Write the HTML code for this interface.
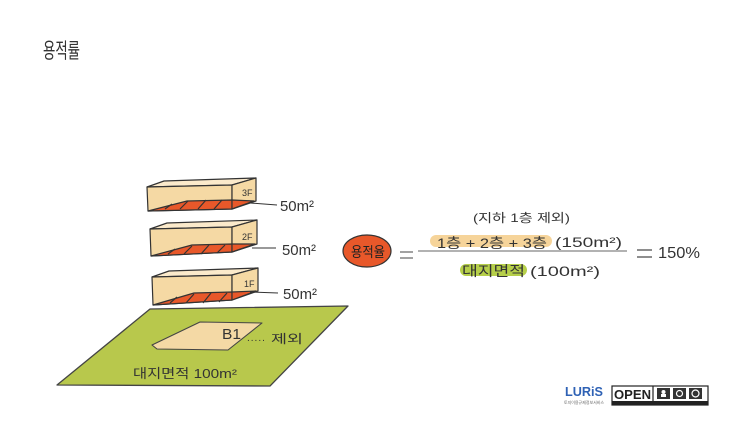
<!DOCTYPE html>
<html><head><meta charset="utf-8">
<style>
html,body{margin:0;padding:0;background:#fff;}
svg{display:block;}
text{font-family:"Liberation Sans","Noto Sans CJK KR",sans-serif;fill:#333;}
</style></head>
<body>
<svg width="742" height="422" viewBox="0 0 742 422" xmlns="http://www.w3.org/2000/svg">
<rect width="742" height="422" fill="#fff"/>
<!-- title -->
<text transform="translate(43,58) scale(1,1.5)" font-size="14" textLength="37" lengthAdjust="spacingAndGlyphs">용적률</text>

<!-- 3F block -->
<g stroke="#333" stroke-width="1.2" stroke-linejoin="round">
<polygon points="147,187 164,181 256,178 232,185" fill="#fbeacb"/>
<polygon points="147,187 232,185 232,209 148,211" fill="#f5d9a4"/>
<polygon points="232,185 256,178 256,201 232,209" fill="#f5d9a4"/>
<polygon points="148,211 187,201 232,200 232,209" fill="#e8582a"/>
<polygon points="232,200 254,201 232,209" fill="#e8582a"/>
<path d="M165,209 L172,204 M180,209 L188,201 M198,209 L206,200 M214,209 L222,200" fill="none"/>
</g>
<text x="242" y="196" font-size="9">3F</text>
<line x1="250" y1="203" x2="277" y2="205" stroke="#333" stroke-width="1"/>
<text x="280" y="211" font-size="15" textLength="34" lengthAdjust="spacingAndGlyphs">50m²</text>

<!-- 2F block -->
<g stroke="#333" stroke-width="1.2" stroke-linejoin="round">
<polygon points="150,229 167,223 257,220 232,227" fill="#fbeacb"/>
<polygon points="150,229 232,227 232,252 151,256" fill="#f5d9a4"/>
<polygon points="232,227 257,220 257,244 232,252" fill="#f5d9a4"/>
<polygon points="151,256 192,245 232,244 232,252" fill="#e8582a"/>
<polygon points="232,244 255,244 232,252" fill="#e8582a"/>
<path d="M168,254 L175,249 M184,254 L192,246 M201,254 L209,245 M217,253 L225,245" fill="none"/>
</g>
<text x="242" y="240" font-size="9">2F</text>
<line x1="252" y1="248" x2="276" y2="248" stroke="#333" stroke-width="1"/>
<text x="282" y="255" font-size="15" textLength="34" lengthAdjust="spacingAndGlyphs">50m²</text>

<!-- 1F block -->
<g stroke="#333" stroke-width="1.2" stroke-linejoin="round">
<polygon points="152,277 169,271 258,268 232,275" fill="#fbeacb"/>
<polygon points="152,277 232,275 232,300 153,305" fill="#f5d9a4"/>
<polygon points="232,275 258,268 258,291 232,300" fill="#f5d9a4"/>
<polygon points="153,305 194,293 232,292 232,300" fill="#e8582a"/>
<polygon points="232,292 256,291 232,300" fill="#e8582a"/>
<path d="M170,303 L177,297 M186,303 L194,294 M203,303 L211,293 M219,302 L227,293" fill="none"/>
</g>
<text x="244" y="287" font-size="9">1F</text>
<line x1="250" y1="292" x2="278" y2="293" stroke="#333" stroke-width="1"/>
<text x="283" y="299" font-size="15" textLength="34" lengthAdjust="spacingAndGlyphs">50m²</text>

<!-- ground -->
<polygon points="150,309 348,306 270,386 57,385" fill="#b8c84c" stroke="#444" stroke-width="1.3" stroke-linejoin="round"/>
<polygon points="152,345 200,322 262,323 228,350 157,349" fill="#f4d9a5" stroke="#444" stroke-width="1.1" stroke-linejoin="round"/>
<text x="222" y="339" font-size="15" textLength="19" lengthAdjust="spacingAndGlyphs">B1</text>
<text x="247" y="341" font-size="10" letter-spacing="1">.....</text>
<text x="271" y="343" font-size="12" textLength="32" lengthAdjust="spacingAndGlyphs">제외</text>
<text x="133" y="378" font-size="13" textLength="104" lengthAdjust="spacingAndGlyphs">대지면적 100m²</text>

<!-- formula -->
<ellipse cx="367" cy="251" rx="24" ry="16" fill="#e8582a" stroke="#333" stroke-width="1.2"/>
<text x="351" y="257" font-size="14" textLength="34" lengthAdjust="spacingAndGlyphs" style="fill:#222">용적율</text>
<line x1="400" y1="252" x2="413" y2="252" stroke="#444" stroke-width="1"/>
<line x1="400" y1="258" x2="413" y2="258" stroke="#444" stroke-width="1"/>

<text x="473" y="222" font-size="12" textLength="97" lengthAdjust="spacingAndGlyphs">(지하 1층 제외)</text>
<rect x="430" y="235" width="122" height="12" rx="6" fill="#f6d49a"/>
<text x="437" y="248" font-size="14" textLength="110" lengthAdjust="spacingAndGlyphs">1층 + 2층 + 3층</text>
<text x="555" y="247" font-size="14" textLength="67" lengthAdjust="spacingAndGlyphs">(150m²)</text>
<line x1="418" y1="251" x2="627" y2="251" stroke="#666" stroke-width="1"/>
<rect x="460" y="264" width="67" height="12" rx="6" fill="#b6cf4a"/>
<text x="462" y="276" font-size="14" textLength="63" lengthAdjust="spacingAndGlyphs">대지면적</text>
<text x="530" y="276" font-size="14" textLength="70" lengthAdjust="spacingAndGlyphs">(100m²)</text>

<line x1="637" y1="250" x2="652" y2="250" stroke="#444" stroke-width="1.2"/>
<line x1="637" y1="257" x2="652" y2="257" stroke="#444" stroke-width="1.2"/>
<text x="658" y="258" font-size="16" textLength="42" lengthAdjust="spacingAndGlyphs">150%</text>

<!-- logo -->
<text x="565" y="396" font-size="13" font-weight="bold" textLength="38" lengthAdjust="spacingAndGlyphs" style="fill:#2f62b5">LURiS</text>
<text x="564" y="404" font-size="4" textLength="40" lengthAdjust="spacingAndGlyphs" style="fill:#666">토지이용규제정보서비스</text>
<rect x="612" y="386" width="96" height="19" fill="#fff" stroke="#222" stroke-width="1.2"/>
<text x="614" y="399" font-size="13" font-weight="bold" textLength="37" lengthAdjust="spacingAndGlyphs" style="fill:#222">OPEN</text>
<rect x="612" y="401" width="96" height="4" fill="#222"/>
<line x1="653" y1="386" x2="653" y2="405" stroke="#222" stroke-width="1.2"/>
<rect x="657" y="388" width="13" height="11" fill="#333"/>
<rect x="673" y="388" width="13" height="11" fill="#333"/>
<rect x="689" y="388" width="13" height="11" fill="#333"/>
<circle cx="663.5" cy="392" r="2" fill="#fff"/>
<rect x="661" y="394" width="5" height="3" fill="#fff"/>
<circle cx="679.5" cy="393.5" r="3" fill="none" stroke="#fff" stroke-width="1.2"/>
<circle cx="695.5" cy="393.5" r="3.5" fill="none" stroke="#fff" stroke-width="1.2"/>
</svg>
</body></html>
